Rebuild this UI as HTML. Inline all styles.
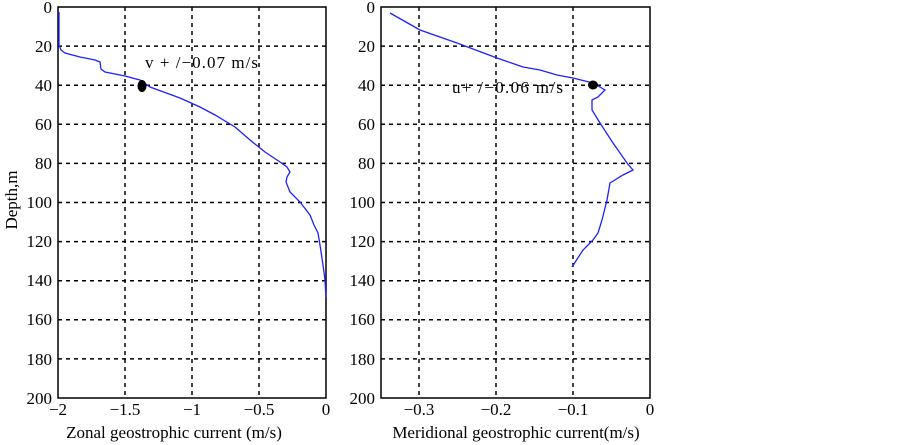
<!DOCTYPE html>
<html><head><style>body{margin:0;background:#fff}svg{display:block}</style></head><body>
<svg width="903" height="445" xmlns="http://www.w3.org/2000/svg" font-family="Liberation Serif, serif" font-size="17" fill="#000">
<g stroke="#000" stroke-width="1.5" stroke-dasharray="4,4">
<line x1="125" y1="7" x2="125" y2="398"/><line x1="192" y1="7" x2="192" y2="398"/><line x1="259" y1="7" x2="259" y2="398"/>
<line x1="419" y1="7" x2="419" y2="398"/><line x1="496" y1="7" x2="496" y2="398"/><line x1="573" y1="7" x2="573" y2="398"/>
<g id="h">
<line x1="58" y1="46.1" x2="326" y2="46.1"/><line x1="58" y1="85.2" x2="326" y2="85.2"/><line x1="58" y1="124.3" x2="326" y2="124.3"/><line x1="58" y1="163.4" x2="326" y2="163.4"/><line x1="58" y1="202.5" x2="326" y2="202.5"/><line x1="58" y1="241.6" x2="326" y2="241.6"/><line x1="58" y1="280.7" x2="326" y2="280.7"/><line x1="58" y1="319.8" x2="326" y2="319.8"/><line x1="58" y1="358.9" x2="326" y2="358.9"/>
</g>
<use href="#h" transform="translate(323,0)"/>
</g>
<rect x="58" y="7" width="268" height="391" fill="none" stroke="#000" stroke-width="1.5"/>
<rect x="381" y="7" width="269" height="391" fill="none" stroke="#000" stroke-width="1.5"/>
<polyline fill="none" stroke="#2020ff" stroke-width="1.3" points="59,12 59,45 61,50 65,53 80,57 95,60 100,62 101,69 105,72 125,76 140,80 150,87 180,98 200,107 215,115 235,127 250,140 265,152 280,162 287,167 290,172 287,177 286,182 290,192 300,202 310,215 314,225 318,233 320,245 323,265 325,280 326,298"/>
<polyline fill="none" stroke="#2020ff" stroke-width="1.3" points="390,13 420,30 457,43 497,58 523,67 540,70 557,75 573,78 593,83 605,90 598,97 592,100 592,110 600,123 613,143 627,163 633,170 623,175 610,183 607,200 602,220 598,233 593,240 583,250 572,267"/>
<ellipse cx="142" cy="86" rx="4.5" ry="6"/>
<ellipse cx="593" cy="85" rx="5" ry="4.5"/>
<text x="145" y="68" textLength="113">v + /−0.07 m/s</text>
<text x="452" y="93" textLength="111">u+ /−0.06 m/s</text>
<g text-anchor="end">
<text x="52" y="13">0</text><text x="52" y="52">20</text><text x="52" y="91">40</text><text x="52" y="130">60</text><text x="52" y="169">80</text><text x="52" y="208">100</text><text x="52" y="247">120</text><text x="52" y="286">140</text><text x="52" y="325">160</text><text x="52" y="365">180</text><text x="52" y="404">200</text>
<text x="375" y="13">0</text><text x="375" y="52">20</text><text x="375" y="91">40</text><text x="375" y="130">60</text><text x="375" y="169">80</text><text x="375" y="208">100</text><text x="375" y="247">120</text><text x="375" y="286">140</text><text x="375" y="325">160</text><text x="375" y="365">180</text><text x="375" y="404">200</text>
</g>
<g text-anchor="middle">
<text x="58" y="415">−2</text><text x="125" y="415">−1.5</text><text x="192" y="415">−1</text><text x="259" y="415">−0.5</text><text x="326" y="415">0</text>
<text x="419" y="415">−0.3</text><text x="496" y="415">−0.2</text><text x="573" y="415">−0.1</text><text x="650" y="415">0</text>
<text x="174" y="438">Zonal geostrophic current (m/s)</text>
<text x="516" y="438">Meridional geostrophic current(m/s)</text>
<text transform="translate(17,200) rotate(-90)">Depth,m</text>
</g>
</svg>
</body></html>
